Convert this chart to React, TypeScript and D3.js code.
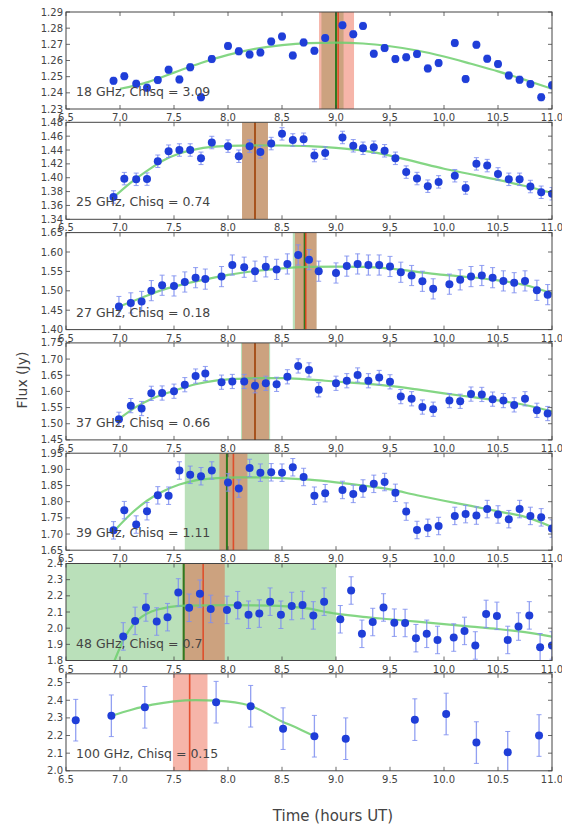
import React from "react";
import * as d3 from "d3";

const W = 562;
const H = 826;

// Sampling times (hours UT)
const timesA = [6.94, 7.04, 7.15, 7.25, 7.35, 7.45, 7.55, 7.65, 7.75, 7.85, 8.0, 8.1, 8.2, 8.3, 8.4, 8.5, 8.6, 8.7, 8.8, 8.9, 9.06, 9.16, 9.25, 9.35, 9.45, 9.55, 9.65, 9.75, 9.85, 9.95, 10.1, 10.2, 10.3, 10.4, 10.5, 10.6, 10.7, 10.8, 10.9, 11.0];
const timesB = [6.99, 7.1, 7.2, 7.29, 7.39, 7.5, 7.6, 7.7, 7.79, 7.94, 8.04, 8.15, 8.25, 8.35, 8.45, 8.55, 8.65, 8.75, 8.84, 9.0, 9.1, 9.2, 9.3, 9.4, 9.5, 9.6, 9.7, 9.8, 9.9, 10.05, 10.15, 10.25, 10.35, 10.45, 10.55, 10.65, 10.75, 10.86, 10.96];
const times48 = [7.03, 7.14, 7.24, 7.34, 7.44, 7.54, 7.64, 7.74, 7.84, 7.99, 8.09, 8.19, 8.29, 8.39, 8.49, 8.59, 8.69, 8.79, 8.89, 9.04, 9.14, 9.24, 9.34, 9.44, 9.54, 9.64, 9.74, 9.84, 9.94, 10.09, 10.19, 10.29, 10.39, 10.49, 10.59, 10.69, 10.79, 10.89, 11.0];
const times100 = [6.59, 6.92, 7.23, 7.89, 8.21, 8.51, 8.8, 9.09, 9.73, 10.02, 10.3, 10.59, 10.88];

// Flux densities (Jy)
const flux18 = [1.2474, 1.2503, 1.2456, 1.2432, 1.2479, 1.2543, 1.2483, 1.2558, 1.2373, 1.2609, 1.269, 1.2657, 1.2637, 1.265, 1.2717, 1.2748, 1.2631, 1.2712, 1.266, 1.2739, 1.2818, 1.2763, 1.2814, 1.2642, 1.2677, 1.2609, 1.262, 1.264, 1.2551, 1.2584, 1.2708, 1.2485, 1.2697, 1.2611, 1.2578, 1.2507, 1.2481, 1.2454, 1.2373, 1.2447];
const flux25 = [1.3722, 1.3987, 1.3977, 1.398, 1.4238, 1.4383, 1.44, 1.44, 1.428, 1.4508, 1.4456, 1.431, 1.4456, 1.4373, 1.4493, 1.4633, 1.4545, 1.4555, 1.432, 1.4357, 1.4581, 1.4461, 1.4425, 1.444, 1.4389, 1.428, 1.4081, 1.3988, 1.3878, 1.394, 1.4029, 1.3852, 1.42, 1.4175, 1.4055, 1.3977, 1.3977, 1.3873, 1.379, 1.3769];
const flux27 = [1.4595, 1.4688, 1.4725, 1.5004, 1.5143, 1.5125, 1.5227, 1.5338, 1.5301, 1.5366, 1.5664, 1.5608, 1.5506, 1.5617, 1.5552, 1.5692, 1.5924, 1.5803, 1.5506, 1.5459, 1.5636, 1.5692, 1.5664, 1.5664, 1.5627, 1.5478, 1.5394, 1.5245, 1.505, 1.5171, 1.5282, 1.5366, 1.5394, 1.5338, 1.5255, 1.5208, 1.5255, 1.5013, 1.4901];
const flux37 = [1.5137, 1.556, 1.547, 1.594, 1.595, 1.6006, 1.6207, 1.6474, 1.6552, 1.6285, 1.6307, 1.6307, 1.6173, 1.6251, 1.6218, 1.6452, 1.6787, 1.6664, 1.605, 1.6251, 1.633, 1.6508, 1.633, 1.643, 1.6296, 1.5839, 1.5772, 1.5516, 1.5449, 1.5716, 1.5694, 1.5917, 1.5906, 1.5761, 1.5716, 1.5583, 1.5772, 1.5415, 1.5315];
const flux39 = [1.7114, 1.7739, 1.7293, 1.7705, 1.8196, 1.8185, 1.8965, 1.8831, 1.8787, 1.8965, 1.8597, 1.8408, 1.9043, 1.8898, 1.8909, 1.8898, 1.9065, 1.8764, 1.8185, 1.8263, 1.8363, 1.8241, 1.8408, 1.8552, 1.8608, 1.8274, 1.7694, 1.7125, 1.7192, 1.7248, 1.756, 1.7616, 1.7571, 1.7772, 1.7605, 1.746, 1.7772, 1.756, 1.7516, 1.717];
const flux48 = [1.949, 2.045, 2.128, 2.041, 2.068, 2.221, 2.126, 2.213, 2.119, 2.113, 2.142, 2.083, 2.09, 2.164, 2.083, 2.137, 2.143, 2.079, 2.164, 2.055, 2.233, 1.965, 2.038, 2.128, 2.034, 2.032, 1.938, 1.965, 1.927, 1.942, 1.983, 1.893, 2.088, 2.076, 1.927, 2.01, 2.079, 1.882, 1.893];
const flux100 = [2.287, 2.312, 2.36, 2.389, 2.366, 2.239, 2.196, 2.182, 2.29, 2.322, 2.16, 2.105, 2.2];

// One-sigma flux uncertainty per band
const fluxErrors = [0.0022, 0.009, 0.026, 0.022, 0.027, 0.085, 0.118];

// Model light curves [time, flux]
const fit18: [number, number][] = [[7.0, 1.2425], [7.25, 1.2465], [7.5, 1.2525], [7.75, 1.2585], [8.0, 1.2635], [8.25, 1.2672], [8.5, 1.2695], [8.75, 1.2707], [9.0, 1.271], [9.25, 1.2705], [9.5, 1.2688], [9.75, 1.2662], [10.0, 1.2625], [10.25, 1.258], [10.5, 1.2533], [10.75, 1.248], [11.0, 1.2425]];
const fit25: [number, number][] = [[6.95, 1.373], [7.1, 1.393], [7.25, 1.41], [7.4, 1.425], [7.55, 1.435], [7.7, 1.441], [7.85, 1.4445], [8.0, 1.446], [8.25, 1.4468], [8.5, 1.4465], [8.75, 1.4455], [9.0, 1.443], [9.25, 1.439], [9.5, 1.432], [9.75, 1.4225], [10.0, 1.413], [10.25, 1.405], [10.5, 1.397], [10.75, 1.388], [11.0, 1.378]];
const fit27: [number, number][] = [[7.0, 1.46], [7.2, 1.482], [7.4, 1.503], [7.6, 1.518], [7.8, 1.53], [8.0, 1.541], [8.25, 1.551], [8.5, 1.558], [8.75, 1.5615], [9.0, 1.5625], [9.25, 1.5615], [9.5, 1.557], [9.75, 1.549], [10.0, 1.541], [10.25, 1.535], [10.5, 1.527], [10.75, 1.515], [11.0, 1.493]];
const fit37: [number, number][] = [[7.0, 1.517], [7.15, 1.552], [7.3, 1.578], [7.5, 1.602], [7.7, 1.622], [7.9, 1.634], [8.1, 1.639], [8.3, 1.641], [8.5, 1.641], [8.7, 1.638], [8.9, 1.633], [9.1, 1.628], [9.3, 1.623], [9.5, 1.617], [9.75, 1.606], [10.0, 1.594], [10.25, 1.583], [10.5, 1.572], [10.75, 1.558], [11.0, 1.538]];
const fit39: [number, number][] = [[6.95, 1.711], [7.1, 1.762], [7.25, 1.803], [7.4, 1.832], [7.55, 1.853], [7.7, 1.866], [7.9, 1.873], [8.1, 1.875], [8.3, 1.875], [8.5, 1.873], [8.75, 1.868], [9.0, 1.86], [9.25, 1.85], [9.5, 1.838], [9.75, 1.82], [10.0, 1.803], [10.25, 1.787], [10.5, 1.77], [10.75, 1.753], [11.0, 1.722]];
const fit48: [number, number][] = [[6.95, 1.8], [7.0, 1.88], [7.05, 1.95], [7.12, 2.02], [7.2, 2.07], [7.3, 2.105], [7.45, 2.13], [7.6, 2.14], [8.0, 2.142], [8.4, 2.14], [8.7, 2.125], [9.0, 2.09], [9.25, 2.07], [9.5, 2.055], [9.75, 2.04], [10.0, 2.025], [10.25, 2.01], [10.5, 1.995], [10.75, 1.975], [11.0, 1.948]];
const fit100: [number, number][] = [[6.92, 2.312], [7.1, 2.345], [7.3, 2.375], [7.5, 2.394], [7.7, 2.401], [7.9, 2.398], [8.2, 2.37], [8.5, 2.28], [8.65, 2.24], [8.8, 2.196]];

// Peak-time intervals: [start, end] of shaded band and the marked peak time
const greenBands: ([number, number] | null)[] = [[8.865, 9.07], [8.13, 8.37], [8.6, 8.82], [8.12, 8.39], [7.6, 8.38], [6.4, 9.0], null];
const greenPeaks: (number | null)[] = [9.0, 8.25, 8.71, 8.25, 7.99, 7.59, null];
const redBands: [number, number][] = [[8.843, 9.167], [8.13, 8.37], [8.62, 8.82], [8.13, 8.38], [7.92, 8.18], [7.58, 7.97], [7.49, 7.81]];
const redPeaks = [9.02, 8.25, 8.72, 8.25, 8.05, 7.77, 7.645];

const panelLabels = ["18 GHz, Chisq = 3.09", "25 GHz, Chisq = 0.74", "27 GHz, Chisq = 0.18", "37 GHz, Chisq = 0.66", "39 GHz, Chisq = 1.11", "48 GHz, Chisq = 0.7", "100 GHz, Chisq = 0.15"];
const yDomains: [number, number][] = [[1.23, 1.29], [1.34, 1.48], [1.4, 1.65], [1.45, 1.75], [1.65, 1.95], [1.8, 2.4], [2.0, 2.55]];
const yTickValues = [
  [1.23, 1.24, 1.25, 1.26, 1.27, 1.28, 1.29],
  [1.34, 1.36, 1.38, 1.4, 1.42, 1.44, 1.46, 1.48],
  [1.4, 1.45, 1.5, 1.55, 1.6, 1.65],
  [1.45, 1.5, 1.55, 1.6, 1.65, 1.7, 1.75],
  [1.65, 1.7, 1.75, 1.8, 1.85, 1.9, 1.95],
  [1.8, 1.9, 2.0, 2.1, 2.2, 2.3, 2.4],
  [2.0, 2.1, 2.2, 2.3, 2.4, 2.5],
];
const yTickDecimals = [2, 2, 2, 2, 2, 1, 1];
const xTickValues = [6.5, 7.0, 7.5, 8.0, 8.5, 9.0, 9.5, 10.0, 10.5, 11.0];

const panelTimes = [timesA, timesA, timesB, timesB, timesA, times48, times100];
const panelFlux = [flux18, flux25, flux27, flux37, flux39, flux48, flux100];
const panelFits = [fit18, fit25, fit27, fit37, fit39, fit48, fit100];

const LEFT = 66;
const RIGHT = 552;
const TOP0 = 12;
const STEP = 110.3;
const PH = 97;

const FONT = "DejaVu Sans, sans-serif";
const INK = "#444";

const x = d3.scaleLinear().domain([6.5, 11.0]).range([LEFT, RIGHT]);

function Panel({ i }: { i: number }) {
  const top = TOP0 + STEP * i;
  const bottom = top + PH;
  const y = d3.scaleLinear().domain(yDomains[i]).range([bottom, top]);
  const clipId = `clip-${i}`;
  const line = d3
    .line<[number, number]>()
    .x((d) => x(d[0]))
    .y((d) => y(d[1]))
    .curve(d3.curveMonotoneX);
  const times = panelTimes[i];
  const flux = panelFlux[i];
  const err = fluxErrors[i];
  const gb = greenBands[i];
  const gp = greenPeaks[i];
  const rb = redBands[i];
  const rp = redPeaks[i];
  const tick = 4;
  const fmt = d3.format(`.${yTickDecimals[i]}f`);
  return (
    <g>
      <defs>
        <clipPath id={clipId}>
          <rect x={LEFT} y={top} width={RIGHT - LEFT} height={PH} />
        </clipPath>
      </defs>
      <rect x={LEFT} y={top} width={RIGHT - LEFT} height={PH} fill="#fff" />
      <g clipPath={`url(#${clipId})`}>
        {gb && (
          <rect x={x(gb[0])} y={top} width={x(gb[1]) - x(gb[0])} height={PH} fill="rgb(40,160,40)" fillOpacity={0.32} />
        )}
        <rect x={x(rb[0])} y={top} width={x(rb[1]) - x(rb[0])} height={PH} fill="rgb(232,70,40)" fillOpacity={0.4} />
        {gp !== null && (
          <line x1={x(gp)} x2={x(gp)} y1={top} y2={bottom} stroke="#2f7a1f" strokeWidth={2} />
        )}
        <line x1={x(rp)} x2={x(rp)} y1={top} y2={bottom} stroke="#e0401c" strokeWidth={1.6} strokeOpacity={0.85} />
        <path d={line(panelFits[i]) || ""} fill="none" stroke="#6fcf6f" strokeWidth={2.2} strokeOpacity={0.85} />
        {times.map((t, k) => {
          const cx = x(t);
          const y1 = y(flux[k] - err);
          const y2 = y(flux[k] + err);
          return (
            <g key={k}>
              <line x1={cx} x2={cx} y1={y1} y2={y2} stroke="#7f8ff0" strokeWidth={1.3} strokeOpacity={0.85} />
              <line x1={cx - 2.5} x2={cx + 2.5} y1={y1} y2={y1} stroke="#7f8ff0" strokeWidth={1} strokeOpacity={0.85} />
              <line x1={cx - 2.5} x2={cx + 2.5} y1={y2} y2={y2} stroke="#7f8ff0" strokeWidth={1} strokeOpacity={0.85} />
              <circle cx={cx} cy={y(flux[k])} r={4} fill="#1f3ed8" />
            </g>
          );
        })}
      </g>
      {xTickValues.map((v) => (
        <g key={`x${v}`}>
          <line x1={x(v)} x2={x(v)} y1={bottom} y2={bottom - tick} stroke={INK} strokeWidth={0.8} />
          <line x1={x(v)} x2={x(v)} y1={top} y2={top + tick} stroke={INK} strokeWidth={0.8} />
          <text x={x(v)} y={bottom + 12} textAnchor="middle" fontSize={10} fill={INK} fontFamily={FONT}>
            {v.toFixed(1)}
          </text>
        </g>
      ))}
      {yTickValues[i].map((v) => (
        <g key={`y${v}`}>
          <line x1={LEFT} x2={LEFT + tick} y1={y(v)} y2={y(v)} stroke={INK} strokeWidth={0.8} />
          <line x1={RIGHT} x2={RIGHT - tick} y1={y(v)} y2={y(v)} stroke={INK} strokeWidth={0.8} />
          <text x={LEFT - 3} y={y(v) + 3.5} textAnchor="end" fontSize={10} fill={INK} fontFamily={FONT}>
            {fmt(v)}
          </text>
        </g>
      ))}
      <rect x={LEFT} y={top} width={RIGHT - LEFT} height={PH} fill="none" stroke={INK} strokeWidth={1} />
      <text x={76} y={top + 84} fontSize={12.5} fill={INK} fontFamily={FONT}>
        {panelLabels[i]}
      </text>
    </g>
  );
}

export default function App() {
  return (
    <svg
      width={W}
      height={H}
      viewBox={`0 0 ${W} ${H}`}
      style={{ position: "absolute", left: 0, top: 0, background: "#fff" }}
    >
      <rect x={0} y={0} width={W} height={H} fill="#fff" />
      {panelLabels.map((_, i) => (
        <Panel key={i} i={i} />
      ))}
      <text
        transform={`translate(27,380) rotate(-90)`}
        textAnchor="middle"
        fontSize={14}
        fill={INK}
        fontFamily={FONT}
      >
        Flux (Jy)
      </text>
      <text x={333} y={821} textAnchor="middle" fontSize={15} fill={INK} fontFamily={FONT}>
        Time (hours UT)
      </text>
    </svg>
  );
}
